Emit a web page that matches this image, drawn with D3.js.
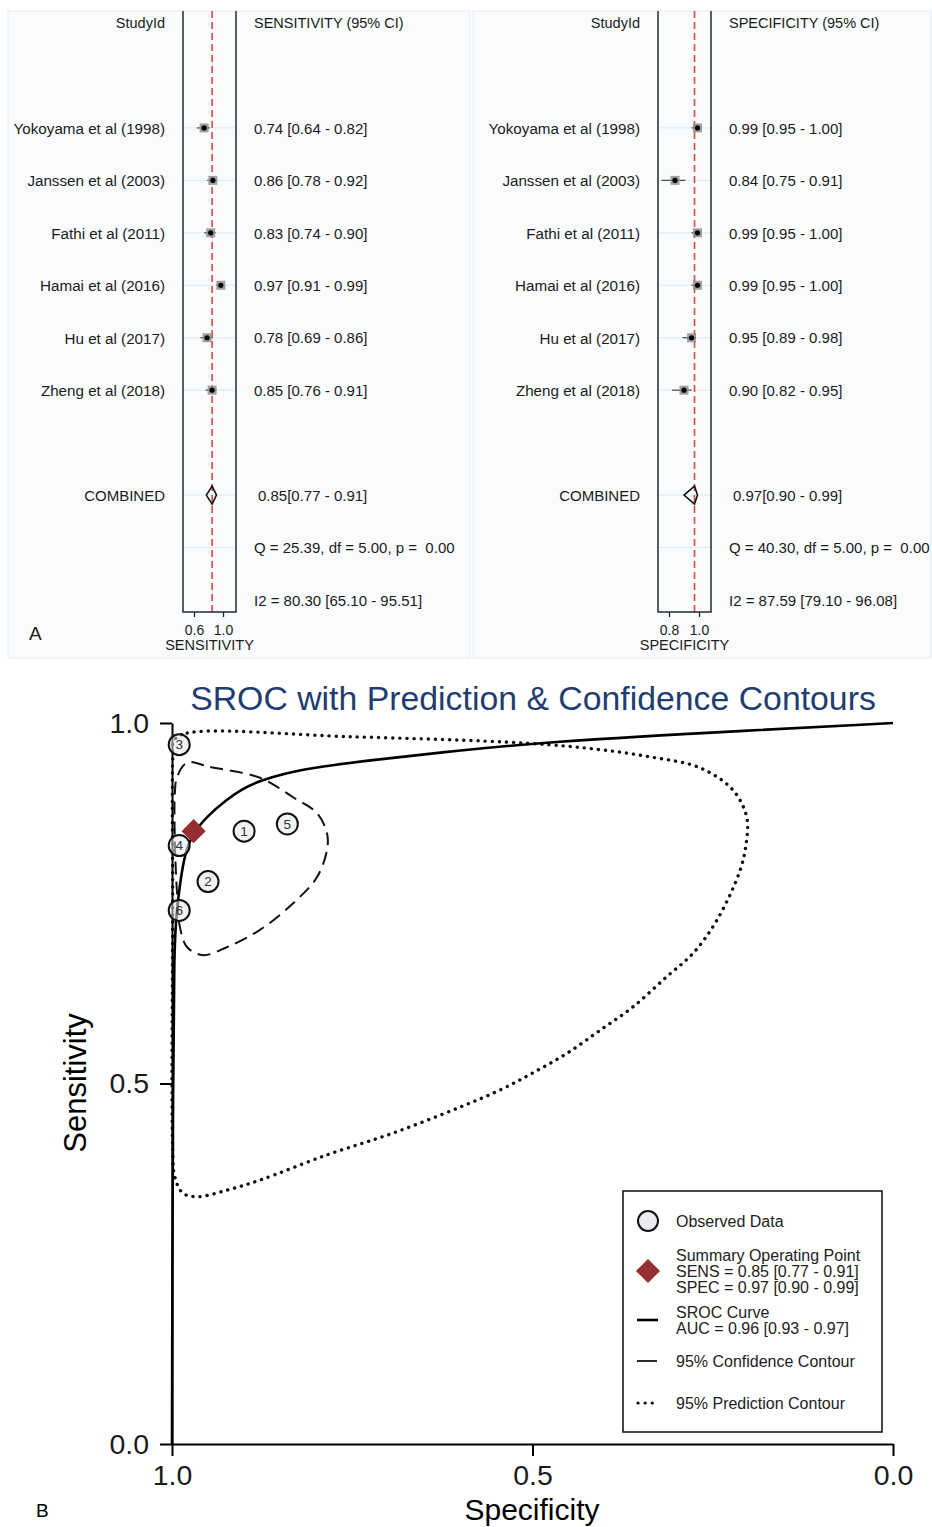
<!DOCTYPE html>
<html>
<head>
<meta charset="utf-8">
<script src="https://cdn.jsdelivr.net/npm/d3@7"></script>
<style>
  body { margin: 0; background: #fff; }
  text { font-family: "Liberation Sans", Arial, Helvetica, sans-serif; fill: #1b1b1b; }
</style>
</head>
<body>
<div id="chart"></div>
<script>

  // ---- forest plot data (panel A) ----
  const studies = ["Yokoyama et al (1998)", "Janssen et al (2003)", "Fathi et al (2011)",
    "Hamai et al (2016)", "Hu et al (2017)", "Zheng et al (2018)"];
  const sens = [0.74, 0.86, 0.83, 0.97, 0.78, 0.85];
  const sensLo = [0.64, 0.78, 0.74, 0.91, 0.69, 0.76];
  const sensHi = [0.82, 0.92, 0.90, 0.99, 0.86, 0.91];
  const spec = [0.99, 0.84, 0.99, 0.99, 0.95, 0.90];
  const specLo = [0.95, 0.75, 0.95, 0.95, 0.89, 0.82];
  const specHi = [1.00, 0.91, 1.00, 1.00, 0.98, 0.95];
  const sensPooled = [0.85, 0.77, 0.91];
  const specPooled = [0.97, 0.90, 0.99];
  const sensStats = ["Q = 25.39, df = 5.00, p =  0.00", "I2 = 80.30 [65.10 - 95.51]"];
  const specStats = ["Q = 40.30, df = 5.00, p =  0.00", "I2 = 87.59 [79.10 - 96.08]"];
  const sensTicks = [0.6, 1.0];
  const specTicks = [0.8, 1.0];

  // ---- SROC data (panel B), [specificity, sensitivity] ----
  const srocId = [6, 5, 4, 3, 2, 1];
  const srocCurve = [[1.000, 0.000], [0.9995, 0.250], [0.9986, 0.477], [0.9972, 0.695], [0.9931, 0.741],
    [0.9889, 0.778], [0.982, 0.820], [0.971, 0.847], [0.952, 0.870], [0.924, 0.894], [0.902, 0.909],
    [0.878, 0.920], [0.843, 0.930], [0.809, 0.937], [0.739, 0.947], [0.601, 0.962], [0.476, 0.974],
    [0.268, 0.986], [0.000, 1.000]];
  const confContour = [[0.979, 0.945], [0.947, 0.939], [0.878, 0.924], [0.832, 0.897], [0.799, 0.875],
    [0.785, 0.847], [0.785, 0.824], [0.799, 0.786], [0.832, 0.750], [0.878, 0.713], [0.924, 0.689],
    [0.957, 0.678], [0.979, 0.689], [0.989, 0.717], [0.993, 0.764], [0.996, 0.834], [0.996, 0.903],
    [0.993, 0.925]];
  const predContour = [[0.997, 0.976], [0.979, 0.986], [0.753, 0.981], [0.508, 0.972], [0.406, 0.963],
    [0.337, 0.953], [0.268, 0.938], [0.222, 0.907], [0.203, 0.870], [0.203, 0.838], [0.212, 0.796],
    [0.244, 0.727], [0.277, 0.681], [0.314, 0.648], [0.361, 0.606], [0.406, 0.574], [0.452, 0.542],
    [0.499, 0.515], [0.545, 0.491], [0.601, 0.467], [0.694, 0.431], [0.785, 0.401], [0.878, 0.366],
    [0.924, 0.352], [0.965, 0.343], [0.985, 0.348], [0.996, 0.370], [0.999, 0.408], [0.999, 0.755],
    [0.999, 0.949]];
  const srocTicks = [0, 0.5, 1];
  const legendText = [["Observed Data"],
    ["Summary Operating Point", "SENS = 0.85 [0.77 - 0.91]", "SPEC = 0.97 [0.90 - 0.99]"],
    ["SROC Curve", "AUC = 0.96 [0.93 - 0.97]"],
    ["95% Confidence Contour"],
    ["95% Prediction Contour"]];

  const svg = d3.select("#chart").append("svg")
    .attr("width", 932)
    .attr("height", 1527);

  // panel A backgrounds
  svg.append("rect").attr("x", 8).attr("y", 11).attr("width", 462).attr("height", 647)
    .attr("fill", "#fafbfd").attr("stroke", "#e6edf3");
  svg.append("rect").attr("x", 473).attr("y", 11).attr("width", 458).attr("height", 647)
    .attr("fill", "#fafbfd").attr("stroke", "#e6edf3");

  const row = d3.scaleLinear().domain([0, 11]).range([23, 600]);
  const boxTop = 11, boxBottom = 612;

  function forest(p) {
    const g = svg.append("g");
    const x = d3.scaleLinear().domain(p.ticks).range(p.tickPx);

    // faint row guides
    const guideRows = [2, 3, 4, 5, 6, 7, 9, 10];
    g.selectAll(".guide").data(guideRows).join("line")
      .attr("x1", p.boxL).attr("x2", p.boxR)
      .attr("y1", d => row(d)).attr("y2", d => row(d))
      .attr("stroke", "#dce8f2").attr("stroke-width", 1);

    // pooled reference line
    g.append("line")
      .attr("x1", x(p.pooled[0])).attr("x2", x(p.pooled[0]))
      .attr("y1", boxTop).attr("y2", boxBottom)
      .attr("stroke", "#dc4a3c").attr("stroke-width", 1.6)
      .attr("stroke-dasharray", "7,4");

    // box (open top)
    g.append("path")
      .attr("d", `M${p.boxL},${boxTop}V${boxBottom}H${p.boxR}V${boxTop}`)
      .attr("fill", "none").attr("stroke", "#1e2b30").attr("stroke-width", 1.5);

    // study CIs + points
    const rows = p.est.map((v, i) => ({ v: v, lo: p.lo[i], hi: p.hi[i], r: i + 2, name: studies[i] }));
    g.selectAll(".ci").data(rows).join("line")
      .attr("x1", d => x(d.lo)).attr("x2", d => x(d.hi))
      .attr("y1", d => row(d.r)).attr("y2", d => row(d.r))
      .attr("stroke", "#4a4a4a").attr("stroke-width", 1.2);
    g.selectAll(".sq").data(rows).join("rect")
      .attr("x", d => x(d.v) - 4.5).attr("y", d => row(d.r) - 4.5)
      .attr("width", 9).attr("height", 9)
      .attr("fill", "#8f8f8f").attr("opacity", 0.85);
    g.selectAll(".dot").data(rows).join("circle")
      .attr("cx", d => x(d.v)).attr("cy", d => row(d.r)).attr("r", 2.6)
      .attr("fill", "#000");

    // pooled diamond
    const cy = row(9);
    g.append("path")
      .attr("d", `M${x(p.pooled[1])},${cy}L${x(p.pooled[0])},${cy - 9}L${x(p.pooled[2])},${cy}L${x(p.pooled[0])},${cy + 9}Z`)
      .attr("fill", "none").attr("stroke", "#111").attr("stroke-width", 1.6);

    // axis
    const ax = g.append("g")
      .attr("transform", `translate(0,${boxBottom})`)
      .call(d3.axisBottom(x).tickValues(p.ticks).tickFormat(d3.format(".1f")).tickSize(5).tickPadding(8));
    ax.select(".domain").remove();
    ax.selectAll(".tick line").attr("stroke", "#1e2b30").attr("stroke-width", 1.3);
    ax.selectAll(".tick text").attr("font-size", 14).attr("font-family", null).attr("fill", "#1b1b1b");
    g.append("text").attr("x", (p.boxL + p.boxR) / 2).attr("y", 650)
      .attr("text-anchor", "middle").attr("font-size", 14.5).text(p.axisLabel);

    // text columns
    g.append("text").attr("x", p.labelX).attr("y", row(0)).attr("dy", "0.35em")
      .attr("text-anchor", "end").attr("font-size", 14.5).text("StudyId");
    g.append("text").attr("x", p.valX).attr("y", row(0)).attr("dy", "0.35em")
      .attr("font-size", 14.5).text(p.header);
    g.selectAll(".name").data(rows).join("text")
      .attr("x", p.labelX).attr("y", d => row(d.r)).attr("dy", "0.38em")
      .attr("text-anchor", "end").attr("font-size", 15.2).text(d => d.name);
    g.selectAll(".val").data(rows).join("text")
      .attr("x", p.valX).attr("y", d => row(d.r)).attr("dy", "0.38em")
      .attr("font-size", 15)
      .text(d => `${d.v.toFixed(2)} [${d.lo.toFixed(2)} - ${d.hi.toFixed(2)}]`);
    g.append("text").attr("x", p.labelX).attr("y", row(9)).attr("dy", "0.38em")
      .attr("text-anchor", "end").attr("font-size", 15).text("COMBINED");
    g.append("text").attr("x", p.valX + 4).attr("y", row(9)).attr("dy", "0.38em")
      .attr("font-size", 15)
      .text(`${p.pooled[0].toFixed(2)}[${p.pooled[1].toFixed(2)} - ${p.pooled[2].toFixed(2)}]`);
    g.selectAll(".stat").data(p.stats).join("text")
      .attr("x", p.valX).attr("y", (d, i) => row(10 + i)).attr("dy", "0.38em")
      .attr("font-size", 15).style("white-space", "pre").text(d => d);
  }

  forest({
    boxL: 183, boxR: 236, ticks: sensTicks, tickPx: [194, 223], labelX: 165, valX: 254,
    est: sens, lo: sensLo, hi: sensHi, pooled: sensPooled, stats: sensStats,
    header: "SENSITIVITY (95% CI)", axisLabel: "SENSITIVITY"
  });
  forest({
    boxL: 658, boxR: 711, ticks: specTicks, tickPx: [669, 699], labelX: 640, valX: 729,
    est: spec, lo: specLo, hi: specHi, pooled: specPooled, stats: specStats,
    header: "SPECIFICITY (95% CI)", axisLabel: "SPECIFICITY"
  });

  svg.append("text").attr("x", 29).attr("y", 640).attr("font-size", 19).text("A");

  // ---- panel B: SROC ----
  const x = d3.scaleLinear().domain([1, 0]).range([172, 893]);
  const y = d3.scaleLinear().domain([0, 1]).range([1444, 723]);
  const line = d3.line().x(d => x(d[0])).y(d => y(d[1]));
  const b = svg.append("g");

  b.append("text").attr("x", 533).attr("y", 710).attr("text-anchor", "middle")
    .attr("font-size", 33.8).style("fill", "#1f3d70")
    .text("SROC with Prediction & Confidence Contours");

  b.append("path")
    .attr("d", line.curve(d3.curveCatmullRomClosed)(predContour))
    .attr("fill", "none").attr("stroke", "#111").attr("stroke-width", 3.4)
    .attr("stroke-linecap", "round").attr("stroke-dasharray", "0.1,7");
  b.append("path")
    .attr("d", line.curve(d3.curveCatmullRomClosed)(confContour))
    .attr("fill", "none").attr("stroke", "#111").attr("stroke-width", 2)
    .attr("stroke-dasharray", "13,7");
  b.append("path")
    .attr("d", line.curve(d3.curveBasis)(srocCurve))
    .attr("fill", "none").attr("stroke", "#000").attr("stroke-width", 2.6);

  // axes
  const yAx = b.append("g").attr("transform", "translate(172,0)")
    .call(d3.axisLeft(y).tickValues(srocTicks).tickFormat(d3.format(".1f")).tickSize(12).tickSizeOuter(0).tickPadding(11));
  const xAx = b.append("g").attr("transform", "translate(0,1444)")
    .call(d3.axisBottom(x).tickValues(srocTicks).tickFormat(d3.format(".1f")).tickSize(12).tickSizeOuter(0).tickPadding(9));
  [yAx, xAx].forEach(a => {
    a.selectAll("path, line").attr("stroke", "#000").attr("stroke-width", 2);
    a.selectAll("text").attr("font-size", 28.5).attr("font-family", null).attr("fill", "#000");
  });

  b.append("text").attr("x", 532).attr("y", 1520).attr("text-anchor", "middle")
    .attr("font-size", 30).style("fill", "#000").text("Specificity");
  b.append("text").attr("transform", "translate(86,1083) rotate(-90)").attr("text-anchor", "middle")
    .attr("font-size", 31).style("fill", "#000").text("Sensitivity");

  // observed points
  const pts = spec.map((s, i) => ({ s: s, e: sens[i], id: srocId[i] }));
  b.selectAll(".obs").data(pts).join("circle")
    .attr("cx", d => x(d.s)).attr("cy", d => y(d.e)).attr("r", 10.5)
    .attr("fill", "#e6e8eb").attr("fill-opacity", 0.55)
    .attr("stroke", "#111").attr("stroke-width", 2);
  b.selectAll(".obsid").data(pts).join("text")
    .attr("x", d => x(d.s)).attr("y", d => y(d.e)).attr("dy", "0.36em")
    .attr("text-anchor", "middle").attr("font-size", 13.5).style("fill", "#333")
    .text(d => d.id);

  // summary point
  b.append("path")
    .attr("d", d3.symbol(d3.symbolSquare, 290)())
    .attr("transform", `translate(${x(specPooled[0])},${y(sensPooled[0])}) rotate(45)`)
    .attr("fill", "#952e2e");

  b.append("text").attr("x", 36).attr("y", 1517).attr("font-size", 19).style("fill", "#000").text("B");

  // legend
  const lg = svg.append("g");
  lg.append("rect").attr("x", 623).attr("y", 1191).attr("width", 259).attr("height", 241)
    .attr("fill", "#fff").attr("stroke", "#1a1a1a").attr("stroke-width", 1.6);
  const legY = [[1221], [1255, 1271, 1287], [1312, 1328], [1361], [1403]];
  legendText.forEach((lines, i) => {
    lg.selectAll(null).data(lines).join("text")
      .attr("x", 676).attr("y", (d, j) => legY[i][j]).attr("dy", "0.35em")
      .attr("font-size", 16).style("fill", "#222").text(d => d);
  });
  lg.append("circle").attr("cx", 648).attr("cy", 1221).attr("r", 10)
    .attr("fill", "#e9ebee").attr("stroke", "#111").attr("stroke-width", 2);
  lg.append("path").attr("d", d3.symbol(d3.symbolSquare, 290)())
    .attr("transform", "translate(648,1271) rotate(45)").attr("fill", "#952e2e");
  lg.append("line").attr("x1", 637).attr("x2", 658).attr("y1", 1320).attr("y2", 1320)
    .attr("stroke", "#000").attr("stroke-width", 2.6);
  lg.append("line").attr("x1", 637).attr("x2", 657).attr("y1", 1361).attr("y2", 1361)
    .attr("stroke", "#111").attr("stroke-width", 1.8);
  lg.append("line").attr("x1", 638).attr("x2", 656).attr("y1", 1403).attr("y2", 1403)
    .attr("stroke", "#111").attr("stroke-width", 3.2)
    .attr("stroke-linecap", "round").attr("stroke-dasharray", "0.1,7");
</script>
</body>
</html>
